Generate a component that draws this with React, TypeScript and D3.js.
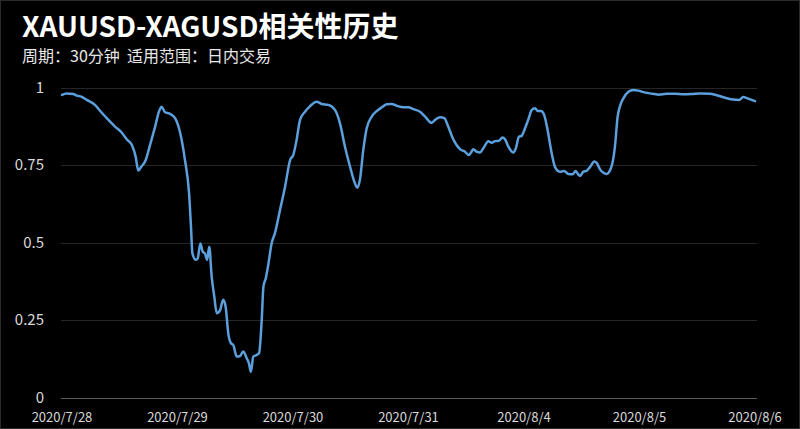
import React, { useEffect } from "react";
import * as d3 from "d3";

const WIDTH = 800;
const HEIGHT = 429;

const titleText = "XAUUSD-XAGUSD相关性历史";
const subtitleText = "周期：30分钟\u00a0\u00a0适用范围：日内交易";

// x labels: every 48 half-hour bars
const tickLabels = ["2020/7/28", "2020/7/29", "2020/7/30", "2020/7/31", "2020/8/4", "2020/8/5", "2020/8/6"];
const tickBars = [0, 48, 96, 144, 192, 240, 288];
const yTicks = [0, 0.25, 0.5, 0.75, 1];
const yTickLabels = ["0", "0.25", "0.5", "0.75", "1"];

// bar index (30-min bars from start)
const barIndex = [
  0, 1.9, 4.7, 6.1, 8.2, 10.3, 13.7, 15.8, 18.6, 22.0, 24.8, 26.9, 29.0, 30.6, 31.7, 32.8, 34.8, 36.6, 38.7, 40.3,
  41.4, 42.8, 44.9, 47.0, 49.0, 51.1, 52.8, 53.6, 54.2, 55.6, 56.4, 57.5, 58.5, 59.4, 60.3, 61.2, 62.2, 63.3, 64.3,
  65.7, 67.0, 68.0, 69.1, 70.2, 71.2, 72.6, 74.0, 75.3, 76.8, 77.7, 78.5, 79.5, 80.9, 81.9, 83.0, 83.7, 84.7, 85.7,
  87.1, 88.5, 90.6, 92.7, 94.8, 96.1, 97.5, 98.9, 101.0, 103.1, 105.8, 107.9, 110.7, 113.5, 115.5, 117.6, 119.7,
  121.5, 122.7, 123.8, 125.2, 126.6, 128.7, 130.8, 132.9, 134.9, 137.0, 139.1, 141.8, 143.9, 146.0, 148.8, 150.9,
  153.6, 155.0, 157.1, 158.9, 160.5, 162.6, 165.4, 167.5, 169.1, 170.2, 170.9, 172.3, 173.7, 175.1, 177.2, 178.6,
  180.0, 181.6, 183.0, 184.1, 185.5, 187.6, 188.6, 189.9, 191.0, 192.4, 193.8, 195.2, 196.6, 197.7, 199.1, 200.4,
  201.8, 203.5, 204.9, 207.0, 208.7, 210.4, 212.2, 213.5, 214.5, 215.3, 216.6, 218.0, 219.4, 221.2, 222.2, 223.6,
  225.0, 226.4, 227.7, 228.9, 229.8, 230.9, 231.9, 233.3, 235.4, 237.4, 239.5, 241.6, 244.4, 247.9, 251.4, 254.8,
  258.3, 261.7, 265.2, 269.3, 272.1, 275.6, 279.0, 281.4, 283.1, 285.2, 288.0,
];

const correlation = [
  0.976, 0.981, 0.979, 0.974, 0.970, 0.960, 0.944, 0.925, 0.901, 0.874, 0.855, 0.833, 0.815, 0.777, 0.732, 0.743,
  0.766, 0.815, 0.874, 0.922, 0.938, 0.920, 0.915, 0.901, 0.857, 0.766, 0.659, 0.551, 0.465, 0.444, 0.449, 0.497,
  0.470, 0.465, 0.444, 0.486, 0.390, 0.325, 0.272, 0.282, 0.315, 0.293, 0.207, 0.175, 0.169, 0.132, 0.134, 0.148,
  0.126, 0.110, 0.083, 0.132, 0.137, 0.143, 0.250, 0.357, 0.385, 0.427, 0.497, 0.530, 0.605, 0.680, 0.766, 0.782,
  0.831, 0.895, 0.922, 0.940, 0.954, 0.947, 0.944, 0.927, 0.885, 0.809, 0.745, 0.696, 0.677, 0.702, 0.798, 0.868,
  0.906, 0.924, 0.936, 0.946, 0.947, 0.941, 0.936, 0.936, 0.930, 0.922, 0.906, 0.886, 0.895, 0.904, 0.901, 0.874,
  0.833, 0.801, 0.793, 0.782, 0.793, 0.801, 0.793, 0.790, 0.804, 0.827, 0.822, 0.827, 0.828, 0.839, 0.833, 0.809,
  0.790, 0.804, 0.841, 0.844, 0.868, 0.897, 0.927, 0.933, 0.924, 0.924, 0.911, 0.863, 0.788, 0.743, 0.728, 0.731,
  0.721, 0.720, 0.731, 0.720, 0.715, 0.728, 0.731, 0.743, 0.761, 0.757, 0.736, 0.725, 0.721, 0.732, 0.761, 0.810,
  0.905, 0.940, 0.965, 0.986, 0.992, 0.990, 0.985, 0.981, 0.977, 0.980, 0.980, 0.978, 0.979, 0.981, 0.980, 0.975,
  0.967, 0.961, 0.960, 0.969, 0.964, 0.956,
];

const FONT = "'Noto Sans CJK SC', 'Noto Sans', sans-serif";

export default function App() {
  useEffect(() => {
    document.body.style.margin = "0";
    document.body.style.background = "#000";
  }, []);

  const x = d3.scaleLinear().domain([0, 288]).range([62, 755]);
  const y = d3.scaleLinear().domain([0, 1]).range([397.5, 87.5]);

  const points = barIndex.map((b, i) => [b, correlation[i]] as [number, number]);
  const line = d3
    .line<[number, number]>()
    .x((d) => x(d[0]))
    .y((d) => y(d[1]))
    .curve(d3.curveMonotoneX);

  const gridLeft = x(0) - 1;
  const gridRight = x(288) + 2;

  return (
    <svg
      width={WIDTH}
      height={HEIGHT}
      style={{ position: "absolute", left: 0, top: 0, display: "block" }}
      fontFamily={FONT}
    >
      <rect x={0} y={0} width={WIDTH} height={HEIGHT} fill="#000" />
      <rect x={0.5} y={0.5} width={WIDTH - 1} height={HEIGHT - 1} fill="none" stroke="#2a2a2a" />
      <text x={22} y={37} fill="#fff" fontSize={28} fontWeight={700}>
        {titleText}
      </text>
      <text x={22} y={62} fill="#e8e8e8" fontSize={16} style={{ whiteSpace: "pre" }}>
        {subtitleText}
      </text>
      {yTicks.map((t, i) => (
        <g key={"y" + i}>
          <line
            x1={gridLeft}
            x2={gridRight}
            y1={Math.round(y(t)) + 0.5}
            y2={Math.round(y(t)) + 0.5}
            stroke={t === 0 ? "#5a5a5a" : "#262626"}
            strokeWidth={1}
          />
          <text
            x={44}
            y={y(t)}
            dy="0.35em"
            textAnchor="end"
            fill="#d9d9d9"
            fontSize={15}
          >
            {yTickLabels[i]}
          </text>
        </g>
      ))}
      {tickBars.map((b, i) => (
        <text key={"x" + i} x={x(b)} y={422} textAnchor="middle" fill="#d9d9d9" fontSize={13}>
          {tickLabels[i]}
        </text>
      ))}
      <path
        d={line(points) || ""}
        fill="none"
        stroke="#5b9fdc"
        strokeWidth={2.5}
        strokeLinejoin="round"
        strokeLinecap="round"
      />
    </svg>
  );
}
